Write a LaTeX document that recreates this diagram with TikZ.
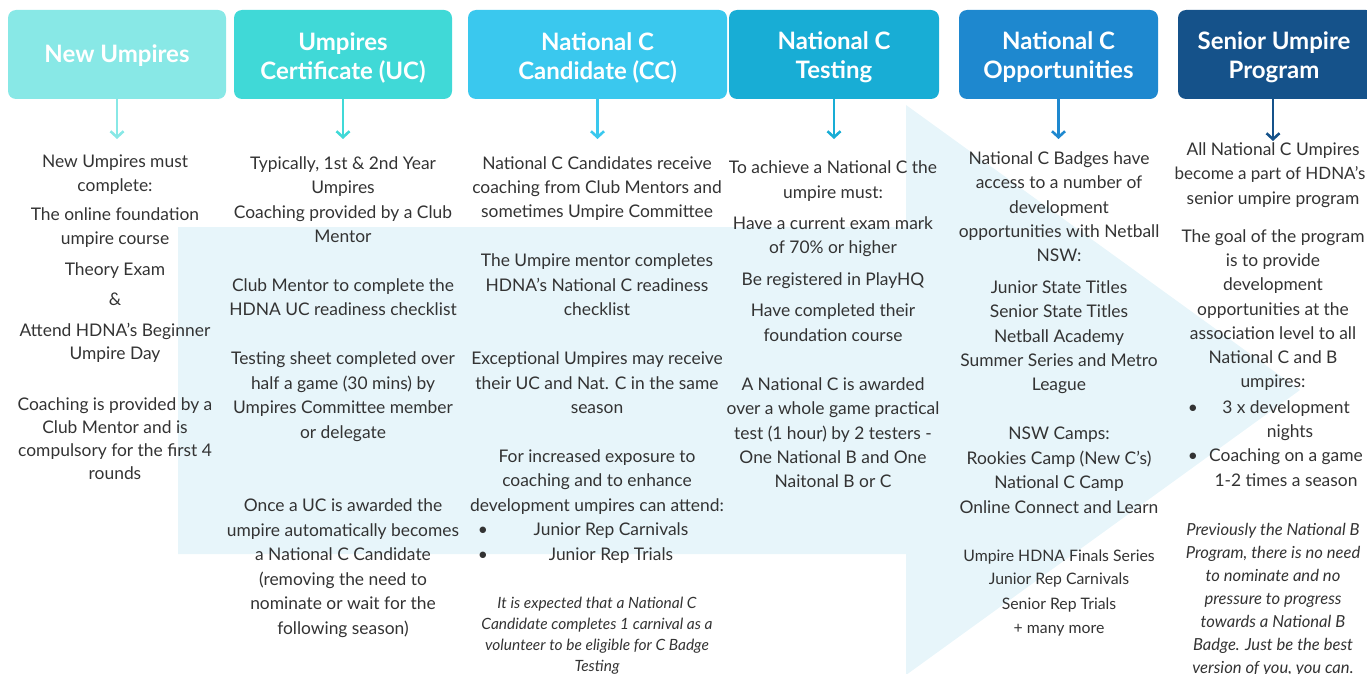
\documentclass[tikz,border=0pt]{standalone}
\usepackage{fontspec}
\setmainfont{Lato}
\usetikzlibrary{arrows.meta}
\definecolor{cA}{HTML}{88E8E6}
\definecolor{cB}{HTML}{40D9D7}
\definecolor{cC}{HTML}{3AC8EE}
\definecolor{cD}{HTML}{18ADD5}
\definecolor{cE}{HTML}{1E88CF}
\definecolor{cF}{HTML}{15528A}
\definecolor{bgarrow}{HTML}{E7F5FA}
\definecolor{txt}{HTML}{333333}
\tikzset{
  hdr/.style={rounded corners=8pt, inner sep=0pt, minimum height=89pt},
  hdrtxt/.style={text=white, align=center, inner sep=0pt,
    font=\fontsize{24}{29}\selectfont\bfseries},
  bt/.style={text=txt, inner sep=0pt, anchor=base, font=\fontsize{17.4}{24}\selectfont},
  btsm/.style={bt, font=\fontsize{15.8}{24}\selectfont},
  itA/.style={bt, font=\fontsize{15.5}{21}\selectfont\itshape},
  itB/.style={bt, font=\fontsize{16.6}{23}\selectfont\itshape},
  conn/.style={line width=2.6pt, -{Straight Barb[length=6pt,width=13pt]}},
}
\begin{document}
\begin{tikzpicture}[x=1pt,y=-1pt]
\useasboundingbox (0,0) rectangle (1367,674);
% background arrow
\fill[bgarrow] (178,227) -- (906,227) -- (906,105) -- (1300,390) -- (906,675)
  -- (906,554) -- (178,554) -- cycle;
% headers
\node[hdr, fill=cA, minimum width=218pt] (h1) at (117,54.5) {};
\node[hdr, fill=cB, minimum width=218pt] (h2) at (343,54.5) {};
\node[hdr, fill=cC, minimum width=259pt] (h3) at (597.5,54.5) {};
\node[hdr, fill=cD, minimum width=210pt] (h4) at (834,54.5) {};
\node[hdr, fill=cE, minimum width=199pt] (h5) at (1058.5,54.5) {};
\node[hdr, fill=cF, minimum width=196pt] (h6) at (1276,54.5) {};
\node[hdrtxt] (h1t) at ([yshift=-1pt]h1.center) {New Umpires};
\node[hdrtxt] (h2t) at ([yshift=-3pt]h2.center) {Umpires\\Certificate (UC)};
\node[hdrtxt] (h3t) at ([yshift=-3pt]h3.center) {National C\\Candidate (CC)};
\node[hdrtxt] (h4t) at ([yshift=-3pt]h4.center) {National C\\Testing};
\node[hdrtxt] (h5t) at ([yshift=-3pt]h5.center) {National C\\Opportunities};
\node[hdrtxt] (h6t) at ([xshift=-2pt,yshift=-3pt]h6.center) {Senior Umpire\\Program};
% connector ends
\coordinate (a1) at (117,139);
\coordinate (a2) at (343,139);
\coordinate (a3) at (597.5,139);
\coordinate (a4) at (834,139);
\coordinate (a5) at (1058.5,139);
\coordinate (a6) at (1273,141);
\draw[conn, cA] (h1.south) -- (a1);
\draw[conn, cB] (h2.south) -- (a2);
\draw[conn, cC] (h3.south) -- (a3);
\draw[conn, cD] (h4.south) -- (a4);
\draw[conn, cE] (h5.south) -- (a5);
\draw[conn, cF] (h6.south -| a6) -- (a6);
% column 1
\foreach \y/\t [count=\i] in {161/New Umpires must, 185/complete:, 214/The online foundation,
  238/umpire course, 269/Theory Exam, 299/\&, 330/Attend HDNA's Beginner, 353/Umpire Day,
  404/Coaching is provided by a, 427/Club Mentor and is, 450/compulsory for the first 4, 473/rounds}
  \node[bt] (c1-\i) at (115,\y+6) {\t};
% column 2
\foreach \y/\t [count=\i] in {{163/Typically, 1st \& 2nd Year}, 187/Umpires, 212/Coaching provided by a Club,
  236/Mentor, 285/Club Mentor to complete the, 309/HDNA UC readiness checklist,
  358/Testing sheet completed over, 383/half a game (30 mins) by, 407/Umpires Committee member,
  432/or delegate, 505/Once a UC is awarded the, 530/umpire automatically becomes,
  554/a National C Candidate, 579/(removing the need to, 603/nominate or wait for the,
  628/following season)}
  \node[bt] (c2-\i) at (343,\y+6) {\t};
% column 3
\foreach \y/\t [count=\i] in {163/National C Candidates receive, 187/coaching from Club Mentors and,
  211/sometimes Umpire Committee, 260/The Umpire mentor completes, 285/HDNA's National C readiness,
  309/checklist, 358/Exceptional Umpires may receive, 383/their UC and Nat. C in the same,
  407/season, 456/For increased exposure to, 480/coaching and to enhance,
  505/development umpires can attend:}
  \node[bt] (c3-\i) at (597,\y+6) {\t};
\node[bt] (c3b1) at (483,529+6) {\textbullet};
\node[bt] (c3t1) at (611,529+6) {Junior Rep Carnivals};
\node[bt] (c3b2) at (483,554+6) {\textbullet};
\node[bt] (c3t2) at (611,554+6) {Junior Rep Trials};
\foreach \y/\t [count=\i] in {603/It is expected that a National C, 624/Candidate completes 1 carnival as a,
  645/volunteer to be eligible for C Badge, 666/Testing}
  \node[itA] (c3i-\i) at (597,\y+5) {\t};
% column 4
\foreach \y/\t [count=\i] in {167/To achieve a National C the, 192/umpire must:, 223/Have a current exam mark,
  247/of 70\% or higher, 279/Be registered in PlayHQ, 310/Have completed their, 335/foundation course,
  384/A National C is awarded, 408/over a whole game practical, 433/test (1 hour) by 2 testers -,
  457/One National B and One, 481/Naitonal B or C}
  \node[bt] (c4-\i) at (833,\y+6) {\t};
% column 5
\foreach \y/\t [count=\i] in {158/National C Badges have, 182/access to a number of, 207/development,
  231/opportunities with Netball, 255/NSW:, 287/Junior State Titles, 311/Senior State Titles,
  336/Netball Academy, 360/Summer Series and Metro, 384/League, 433/NSW Camps:,
  458/Rookies Camp (New C's), 482/National C Camp, 507/Online Connect and Learn}
  \node[bt] (c5-\i) at (1059,\y+6) {\t};
\foreach \y/\t [count=\i] in {555/Umpire HDNA Finals Series, 578/Junior Rep Carnivals,
  603/Senior Rep Trials, 627/+ many more}
  \node[btsm] (c5s-\i) at (1059,\y+6) {\t};
% column 6
\foreach \y/\t [count=\i] in {149/All National C Umpires, 198/senior umpire program,
  236/The goal of the program, 260/is to provide, 284/development,
  309/opportunities at the, 333/association level to all, 357/National C and B, 381/umpires:}
  \node[bt] (c6-\i) at (1273,\y+6) {\t};
\node[bt, font=\fontsize{17}{24}\selectfont] (c6-x) at (1270,173+6) {become a part of HDNA's};
\node[bt] (c6b1) at (1193,407+6) {\textbullet};
\node[bt] (c6t1) at (1286,407+6) {3 x development};
\node[bt] (c6t2) at (1290,431+6) {nights};
\node[bt] (c6b2) at (1193,455+6) {\textbullet};
\node[bt] (c6t3) at (1286,455+6) {Coaching on a game};
\node[bt] (c6t4) at (1286,480+6) {1-2 times a season};
\foreach \y/\t [count=\i] in {530/Previously the National B, {553/Program, there is no need},
  576/to nominate and no, 599/pressure to progress, 622/towards a National B,
  645/Badge. Just be the best, {668/version of you, you can.}}
  \node[itB] (c6i-\i) at (1273,\y+5) {\t};
\end{tikzpicture}
\end{document}
